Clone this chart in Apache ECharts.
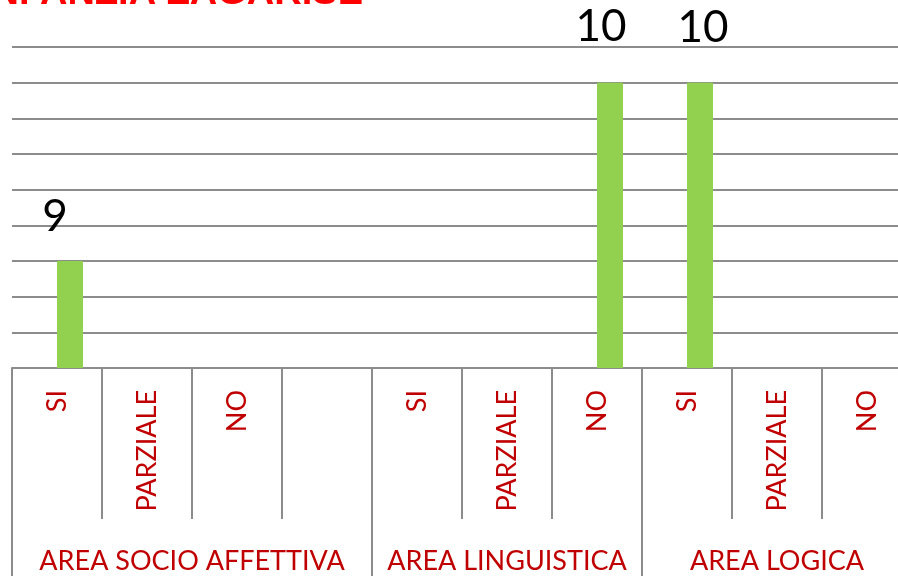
<!DOCTYPE html>
<html>
<head>
<meta charset="utf-8">
<script src="https://cdn.jsdelivr.net/npm/echarts@6/dist/echarts.min.js"></script>
<style>
    html, body { margin: 0; padding: 0; background: #ffffff; }
    #chart { width: 898px; height: 576px; }
</style>
</head>
<body>
<div id="chart"></div>
<script>
// chart data
const titleText = "SCUOLA DELL'INFANZIA ZAGARISE";
const answers = ['SI', 'PARZIALE', 'NO', '', 'SI', 'PARZIALE', 'NO', 'SI', 'PARZIALE', 'NO'];
const areas = ['AREA SOCIO AFFETTIVA', 'AREA LINGUISTICA', 'AREA LOGICA'];
const areaBounds = [0, 4, 7, 10];
const areaCenters = [2, 5.5, 8.5];
const placeholderValues = [null, null, null, null, null, null, null, null, null, null];
const countValues = [9, null, null, null, null, null, 10, 10, null, null];
const yTicks = { min: 8.4, max: 10.2, interval: 0.2 };

const gridColor = '#8c8c8c';
const redText = '#c00000';

// manual label shifts, as in the original chart
const labelShift = { 0: [-15, 0], 6: [-9, -12], 7: [3, -11] };

let chart = echarts.init(document.getElementById('chart'));

const option = {
    animation: false,
    title: {
        text: titleText,
        right: 530,
        top: -30,
        textStyle: {
            fontFamily: 'Liberation Sans',
            fontWeight: 'bold',
            fontSize: 38,
            color: '#ff0000'
        }
    },
    grid: {
        left: 12,
        top: 47,
        right: -14,
        bottom: 208,
        containLabel: false,
        outerBoundsMode: 'none'
    },
    xAxis: [
        {
            type: 'category',
            data: answers,
            position: 'bottom',
            axisLine: { show: true, lineStyle: { color: gridColor, width: 2 } },
            axisTick: {
                show: true,
                interval: 0,
                length: 151,
                lineStyle: { color: gridColor, width: 2 }
            },
            axisLabel: {
                interval: 0,
                rotate: 90,
                margin: 22,
                color: redText,
                fontFamily: 'Lato',
                fontSize: 27
            },
            splitLine: { show: false }
        },
        {
            type: 'value',
            min: 0,
            max: 10,
            position: 'bottom',
            axisLine: { show: false },
            axisTick: {
                show: true,
                customValues: areaBounds,
                length: 208,
                lineStyle: { color: gridColor, width: 2 }
            },
            axisLabel: {
                show: true,
                customValues: areaCenters,
                margin: 180,
                color: redText,
                fontFamily: 'Lato',
                fontSize: 27,
                formatter: function (value) {
                    return areas[areaCenters.indexOf(value)];
                }
            },
            splitLine: { show: false }
        }
    ],
    yAxis: {
        type: 'value',
        min: yTicks.min,
        max: yTicks.max,
        interval: yTicks.interval,
        axisLine: { show: false },
        axisTick: { show: false },
        axisLabel: { show: false },
        splitLine: { show: true, lineStyle: { color: gridColor, width: 2 } }
    },
    series: [
        {
            type: 'bar',
            data: placeholderValues,
            barWidth: 26,
            barGap: '0%',
            itemStyle: { color: '#4f81bd' }
        },
        {
            type: 'bar',
            data: countValues.map(function (v, i) {
                return {
                    value: v,
                    label: { offset: labelShift[i] || [0, 0] }
                };
            }),
            barWidth: 26,
            barGap: '0%',
            itemStyle: { color: '#92d050' },
            label: {
                show: true,
                position: 'top',
                distance: 22,
                color: '#000000',
                fontFamily: 'Lato',
                fontSize: 44
            }
        }
    ]
};

chart.setOption(option);
</script>
</body>
</html>
